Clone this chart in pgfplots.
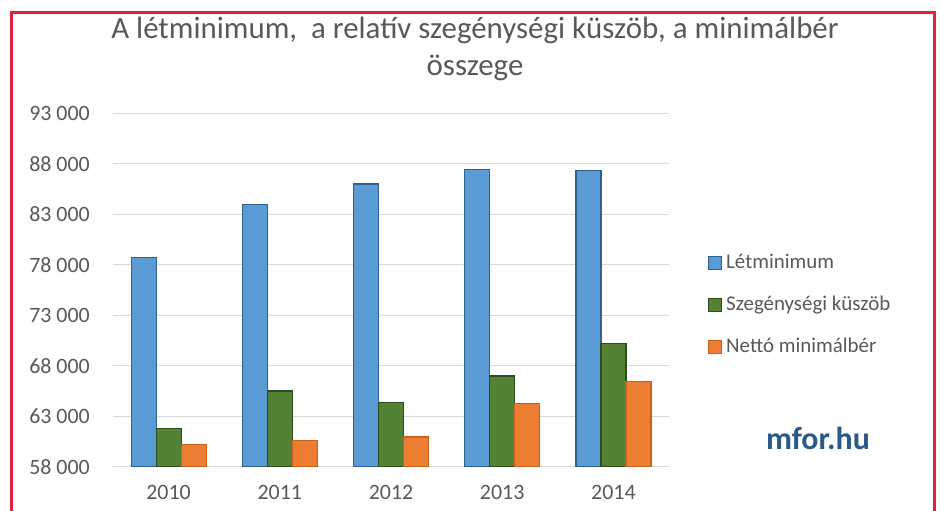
\documentclass[border=0pt]{standalone}
\usepackage{fontspec}
\setmainfont{Carlito}
\usepackage{pgfplots}
\pgfplotsset{compat=1.18}
\definecolor{cblue}{HTML}{5B9BD5}
\definecolor{cbluee}{HTML}{2F5F8F}
\definecolor{cgreen}{HTML}{548235}
\definecolor{cgreene}{HTML}{2E4A1E}
\definecolor{corange}{HTML}{ED7D31}
\definecolor{corangee}{HTML}{C8601E}
\definecolor{tgray}{HTML}{595959}
\definecolor{gridc}{HTML}{D9D9D9}
\definecolor{cred}{HTML}{E5203A}
\definecolor{logoc}{HTML}{2A5A8C}
\begin{document}
\begin{tikzpicture}[x=1bp,y=1bp]
\fill[white] (0,0) rectangle (940,511);
\useasboundingbox (0,0) rectangle (940,511);
\draw[cred, line width=3bp] (11,-2) -- (11,498) -- (934,498) -- (934,-2);
\node[text=tgray, font=\fontsize{31}{38}\selectfont, align=center] at (475,462) {A létminimum,\ \ a relatív szegénységi küszöb, a minimálbér\\összege};
\node[text=logoc, font=\fontsize{32}{32}\selectfont\bfseries] at (818,73) {mfor.hu};
\begin{axis}[
  at={(113bp,44.3bp)}, anchor=south west, scale only axis,
  width=556bp, height=353.4bp,
  ymin=58000, ymax=93000, ytick={58000,63000,...,93000},
  scaled y ticks=false,
  xmin=-0.5, xmax=4.5, xtick={0,1,2,3,4}, xticklabels={2010,2011,2012,2013,2014},
  ybar=0pt, bar width=25bp,
  axis line style={draw=none}, major tick length=0pt,
  ymajorgrids, grid style={gridc, line width=1.2bp},
  tick label style={text=tgray, font=\fontsize{22}{22}\selectfont},
  /pgf/number format/.cd, fixed, precision=0, 1000 sep={\ }, assume math mode=true, /pgfplots/.cd,
  yticklabel style={anchor=east, inner sep=0pt, xshift=-23bp},
  xticklabel style={anchor=center, inner sep=0pt, yshift=-26bp},
  legend style={draw=none, fill=none, at={(1.0701,0.6047)}, anchor=north west, inner sep=0pt,
    font=\fontsize{21}{21}\selectfont, text=tgray, row sep=22bp,
    nodes={text height=14bp, text depth=4bp, inner sep=1bp}},
  legend cell align=left,
  legend image code/.code={\draw[#1, line width=1bp] (0bp,-6.5bp) rectangle (13bp,6.5bp);},
]
\addplot[fill=cblue, draw=cbluee, line width=1.2bp] coordinates {(0,78700) (1,83980) (2,86000) (3,87470) (4,87310)};
\addplot[fill=cgreen, draw=cgreene, line width=1.2bp] coordinates {(0,61800) (1,65500) (2,64370) (3,66980) (4,70220)};
\addplot[fill=corange, draw=corangee, line width=1.2bp] coordinates {(0,60220) (1,60570) (2,60940) (3,64280) (4,66420)};
\legend{\hspace{3bp}Létminimum, \hspace{3bp}Szegénységi küszöb, \hspace{3bp}Nettó minimálbér}
\end{axis}
\end{tikzpicture}
\end{document}
